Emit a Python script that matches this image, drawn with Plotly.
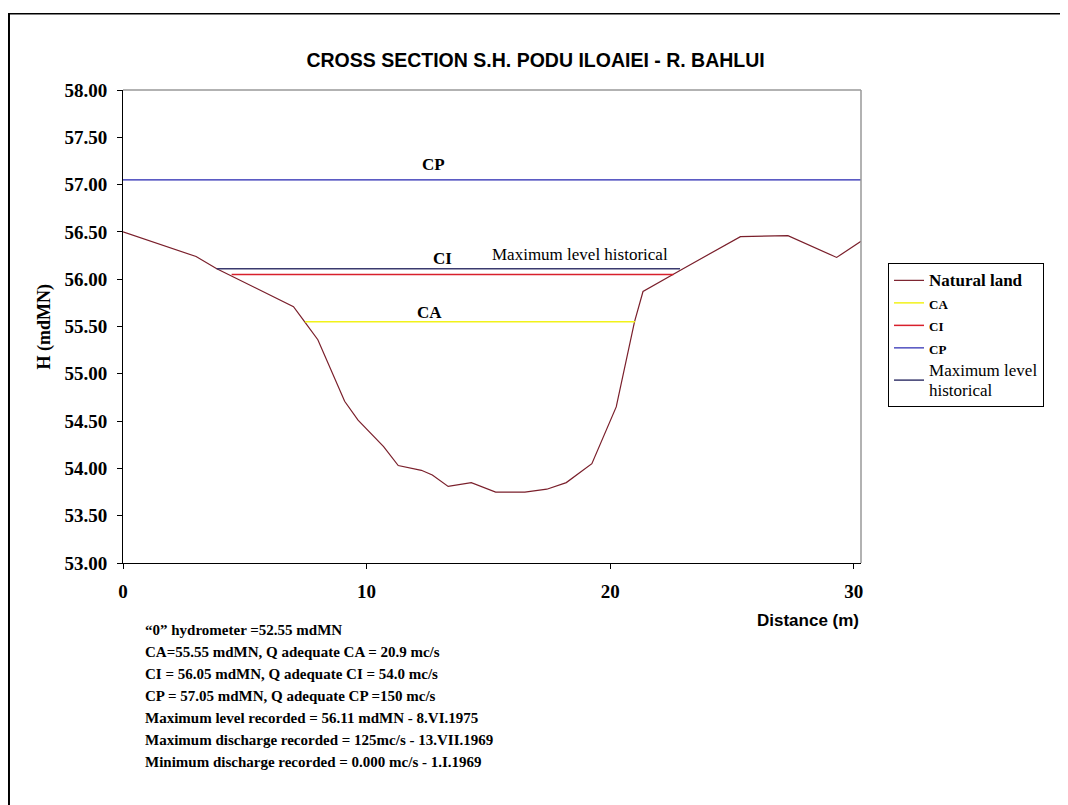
import plotly.graph_objects as go

# ---- data ----
land_x = [0, 3.0, 3.85, 7.0, 7.4, 8.0, 9.1, 9.65, 10.7, 11.3, 12.25, 12.7, 13.35, 14.3,
          15.3, 16.5, 17.4, 18.2, 19.25, 20.25, 21.0, 21.35, 22.85, 25.35, 27.3, 29.3, 30.3]
land_y = [56.50, 56.24, 56.11, 55.71, 55.57, 55.36, 54.71, 54.51, 54.23, 54.03, 53.98, 53.93,
          53.81, 53.85, 53.75, 53.75, 53.78, 53.85, 54.05, 54.65, 55.55, 55.87, 56.09, 56.45,
          56.46, 56.23, 56.40]

ca_x = [7.47, 21.03]
ca_level = 55.55
ci_x = [4.46, 22.6]
ci_level = 56.05
cp_x = [0, 30.3]
cp_level = 57.05
maxh_x = [3.85, 22.87]
maxh_level = 56.11

y_ticks = [53.0, 53.5, 54.0, 54.5, 55.0, 55.5, 56.0, 56.5, 57.0, 57.5, 58.0]
x_ticks = [0, 10, 20, 30]

info_lines = [
    "\u201c0\u201d hydrometer =52.55 mdMN",
    "CA=55.55 mdMN, Q adequate CA = 20.9 mc/s",
    "CI = 56.05 mdMN, Q adequate CI = 54.0 mc/s",
    "CP = 57.05 mdMN, Q adequate CP =150 mc/s",
    "Maximum level recorded = 56.11 mdMN - 8.VI.1975",
    "Maximum discharge recorded = 125mc/s - 13.VII.1969",
    "Minimum discharge recorded = 0.000 mc/s - 1.I.1969",
]

SERIF = "Liberation Serif, Times New Roman, serif"
SANS = "Liberation Sans, Arial, sans-serif"

fig = go.Figure()
fig.add_trace(go.Scatter(x=land_x, y=land_y, mode="lines",
                         line=dict(color="#7a1f2b", width=1.2),
                         name="<span style='font-size:17px'><b>Natural land</b></span>"))
fig.add_trace(go.Scatter(x=ca_x, y=[ca_level] * len(ca_x), mode="lines",
                         line=dict(color="#f2f21a", width=1.5),
                         name="<span style='font-size:13px'><b>CA</b></span>"))
fig.add_trace(go.Scatter(x=ci_x, y=[ci_level] * len(ci_x), mode="lines",
                         line=dict(color="#d8202c", width=1.5),
                         name="<span style='font-size:13px'><b>CI</b></span>"))
fig.add_trace(go.Scatter(x=cp_x, y=[cp_level] * len(cp_x), mode="lines",
                         line=dict(color="#2424b0", width=1.2),
                         name="<span style='font-size:13px'><b>CP</b></span>"))
fig.add_trace(go.Scatter(x=maxh_x, y=[maxh_level] * len(maxh_x), mode="lines",
                         line=dict(color="#3a3a6e", width=1.5),
                         name="<span style='font-size:17px'>Maximum level</span><br>"
                              "<span style='font-size:17px'>historical</span>"))

# level labels
fig.add_annotation(x=12.75, y=cp_level, text="<b>CP</b>", showarrow=False, yshift=15,
                   font=dict(family=SERIF, size=17, color="black"))
fig.add_annotation(x=13.1, y=maxh_level, text="<b>CI</b>", showarrow=False, yshift=10,
                   font=dict(family=SERIF, size=17, color="black"))
fig.add_annotation(x=12.6, y=ca_level, text="<b>CA</b>", showarrow=False, yshift=9,
                   font=dict(family=SERIF, size=17, color="black"))
fig.add_annotation(x=18.77, y=maxh_level, text="Maximum level historical", showarrow=False,
                   yshift=14, font=dict(family=SERIF, size=17, color="black"))

# axis titles
fig.add_annotation(xref="paper", yref="paper", x=1.0, y=-0.121, xanchor="right", yanchor="middle",
                   text="<b>Distance (m)</b>", showarrow=False,
                   font=dict(family=SANS, size=17, color="black"))
fig.add_annotation(xref="paper", yref="paper", x=-0.1057, y=0.5, textangle=-90,
                   xanchor="center", yanchor="middle",
                   text="<b>H (mdMN)</b>", showarrow=False,
                   font=dict(family=SERIF, size=18, color="black"))

# info block, one line every 22 px
for i, s in enumerate(info_lines):
    fig.add_annotation(xref="paper", yref="paper", x=0.0271, y=-0.1416 - i * 22 / 473,
                       xanchor="left", yanchor="middle", align="left", showarrow=False,
                       text="<b>" + s + "</b>",
                       font=dict(family=SERIF, size=15, color="black"))

shapes = [
    # plot frame top/right (gray)
    dict(type="line", xref="paper", yref="paper", x0=0, x1=1, y0=1, y1=1,
         line=dict(color="#999999", width=1.5)),
    dict(type="line", xref="paper", yref="paper", x0=1, x1=1, y0=0, y1=1,
         line=dict(color="#999999", width=1.5)),
    # outer image frame
    dict(type="line", xref="paper", yref="paper", x0=-0.1545, x1=-0.1545, y0=-0.52, y1=1.161,
         line=dict(color="black", width=2)),
    dict(type="line", xref="paper", yref="paper", x0=-0.1558, x1=1.27, y0=1.161, y1=1.161,
         line=dict(color="black", width=1.5)),
]

fig.update_layout(
    width=1068, height=805,
    paper_bgcolor="white", plot_bgcolor="white",
    margin=dict(l=115, r=215, t=82, b=250),
    title=dict(text="<b>CROSS SECTION S.H. PODU ILOAIEI - R. BAHLUI</b>",
               x=0.494, xanchor="center", y=1 - 52 / 805, yanchor="middle",
               font=dict(family=SANS, size=19.5, color="black")),
    showlegend=True,
    legend=dict(x=1.0366, y=0.634, xanchor="left", yanchor="top",
                bordercolor="black", borderwidth=1, bgcolor="white",
                font=dict(family=SERIF, size=15, color="black"),
                tracegroupgap=0, itemwidth=30),
    shapes=shapes,
    xaxis=dict(range=[0, 30.3], tickvals=x_ticks, ticktext=[str(v) for v in x_ticks],
               showgrid=False, zeroline=False, showline=True, linecolor="black", linewidth=1,
               ticks="outside", ticklen=5, tickcolor="black", ticklabelstandoff=6,
               tickfont=dict(family=SERIF, size=19, color="black", weight="bold")),
    yaxis=dict(range=[53, 58], tickvals=y_ticks, ticktext=[f"{v:.2f}" for v in y_ticks],
               showgrid=False, zeroline=False, showline=True, linecolor="black", linewidth=1,
               ticks="outside", ticklen=5, tickcolor="black", ticklabelstandoff=6,
               tickfont=dict(family=SERIF, size=19, color="black", weight="bold")),
)

fig.write_html("out.html")
